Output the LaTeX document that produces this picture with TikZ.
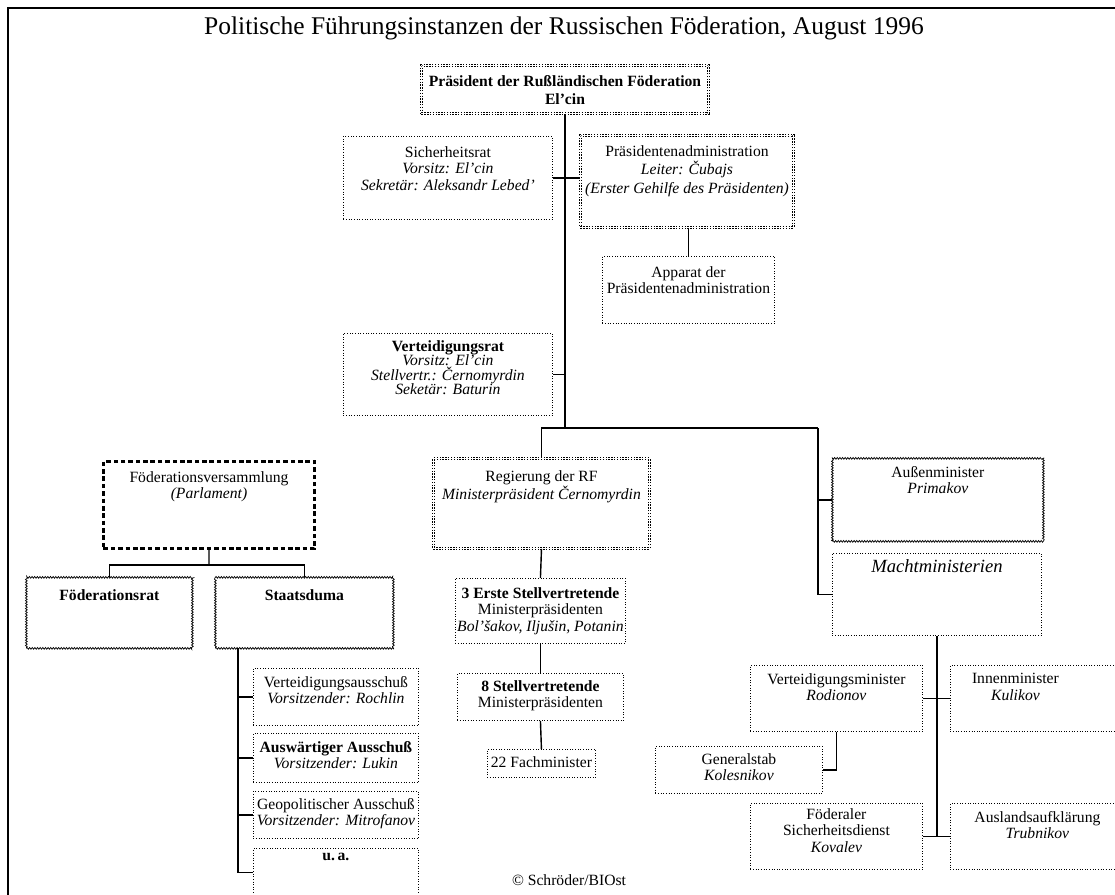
\documentclass[tikz,border=0pt]{standalone}
\usepackage{fontspec}
\setmainfont{Liberation Serif}
\usetikzlibrary{decorations.pathmorphing}

\tikzset{
	dotbox/.style={draw, densely dotted, line width=0.5pt},
	dashbox/.style={draw, line width=1.7pt, dash pattern=on 2.6pt off 1.6pt},
	wavebox/.style={draw, line width=0.4pt, decorate, decoration={zigzag, segment length=1.5pt, amplitude=0.5pt}},
	chainbox/.style={draw, line width=0.55pt, double, double distance=0.8pt, dash pattern=on 0.8pt off 0.8pt},
	sz/.style 2 args={anchor=north west, inner sep=0pt, minimum width=#1*0.02cm, minimum height=#2*0.02cm},
	txt/.style={anchor=north, align=center, inner sep=0pt, yshift=-#1*0.02cm, font=\fontsize{8.9}{9.4}\selectfont},
	link/.style={line width=0.8pt},
}

\begin{document}
\begin{tikzpicture}[x=0.02cm, y=-0.02cm]
			%%%%% START %%%%%
			\useasboundingbox (0,0) rectangle (1115,895);
			\clip (0,0) rectangle (1115,895);
			
			\draw[line width=0.9pt] (1115,8) -- (8,8) -- (8,895);
			\node[font=\fontsize{14.5}{16}\selectfont] (title) at (564,28) {Politische Führungsinstanzen der Russischen Föderation, August 1996};
			
			% Praesident und Umfeld
			\node[chainbox, sz={287}{48}, label={[txt=10, font=\fontsize{8.9}{10.3}\selectfont\bfseries]north:{Präsident der Rußländischen Föderation\\El'cin}}] (pres) at (421,65) {};
			\node[dotbox, sz={209}{83}, label={[txt=10]north:{Sicherheitsrat\\\textit{Vorsitz: El'cin}\\\textit{Sekretär: Aleksandr Lebed'}}}] (sich) at (343,136) {};
			\node[chainbox, sz={213}{92}, label={[txt=10, font=\fontsize{8.9}{10.6}\selectfont]north:{Präsidentenadministration\\\textit{Leiter: Čubajs}\\\textit{(Erster Gehilfe des Präsidenten)}}}] (padm) at (580,135) {};
			\node[dotbox, sz={172}{67}, label={[txt=10]north:{Apparat der\\Präsidentenadministration}}] (app) at (602,256) {};
			\node[dotbox, sz={209}{82}, label={[txt=7, font=\fontsize{8.9}{8.2}\selectfont]north:{\textbf{Verteidigungsrat}\\\textit{Vorsitz: El'cin}\\\textit{Stellvertr.: Černomyrdin}\\\textit{Seketär: Baturin}}}] (vrat) at (343,333) {};
			
			\coordinate (j1) at (565,428);
			\coordinate (j2) at (818,428);
			\draw[link] (pres.south -| j1) -- (j1);
			\draw[link] (sich.east) -- (sich.east -| padm.west);
			\draw[link] (padm.south -| app.north) -- (app.north);
			\draw[link] (vrat.east) -- (vrat.east -| j1);
			
			% Regierung
			\node[chainbox, sz={216}{90}, label={[txt=12]north:{Regierung der RF\\\textit{Ministerpräsident Černomyrdin}}}] (reg) at (433,458) {};
			\node[dotbox, sz={170}{65}, label={[txt=9]north:{\textbf{3 Erste Stellvertretende}\\Ministerpräsidenten\\\textit{Bol'šakov, Iljušin, Potanin}}}] (erste) at (455,578) {};
			\node[dotbox, sz={166}{47}, label={[txt=7]north:{\textbf{8 Stellvertretende}\\Ministerpräsidenten}}] (acht) at (457,673) {};
			\node[dotbox, sz={108}{28}, label={[txt=7]north:{22 Fachminister}}] (fach) at (487,749) {};
			
			\draw[link] (reg.north) |- (j2);
			\draw[link] (reg.south) -- (erste.north);
			\draw[link] (erste.south) -- (acht.north);
			\draw[link] (acht.south) -- (fach.north);
			
			% Parlament
			\node[dashbox, sz={211}{87}, label={[txt=11]north:{Föderationsversammlung\\\textit{(Parlament)}}}] (fv) at (102,460) {};
			\node[wavebox, sz={166}{71}, label={[txt=12, font=\fontsize{8.9}{9.4}\selectfont\bfseries]north:{Föderationsrat}}] (frat) at (26,577) {};
			\node[wavebox, sz={178}{71}, label={[txt=12, font=\fontsize{8.9}{9.4}\selectfont\bfseries]north:{Staatsduma}}] (sduma) at (215,577) {};
			
			\coordinate (j3) at (209,565);
			\coordinate (j4) at (238,648);
			\draw[link] (fv.south) -- (j3);
			\draw[link] (frat.north) |- (j3) -| (sduma.north);
			
			\node[dotbox, sz={165}{57}, label={[txt=8]north:{Verteidigungsausschuß\\\textit{Vorsitzender: Rochlin}}}] (vaus) at (253,668) {};
			\node[dotbox, sz={165}{49}, label={[txt=8]north:{\textbf{Auswärtiger Ausschuß}\\\textit{Vorsitzender: Lukin}}}] (aaus) at (253,733) {};
			\node[dotbox, sz={165}{47}, label={[txt=7]north:{Geopolitischer Ausschuß\\\textit{Vorsitzender: Mitrofanov}}}] (geo) at (253,791) {};
			\node[dotbox, sz={165}{48}, label={[txt=5, font=\fontsize{8.9}{9.4}\selectfont\bfseries]north:{u.\,a.}}] (ua) at (253,848) {};
			
			\draw[link] (j4) |- (ua.west);
			\draw[link] (vaus.west -| j4) -- (vaus.west);
			\draw[link] (aaus.west -| j4) -- (aaus.west);
			\draw[link] (geo.west -| j4) -- (geo.west);
			
			% Minister
			\node[wavebox, sz={211}{83}, label={[txt=8]north:{Außenminister\\\textit{Primakov}}}] (aussen) at (832,458) {};
			\node[dotbox, sz={209}{82}, label={[txt=6, font=\fontsize{10.6}{12}\selectfont\itshape]north:{Machtministerien}}] (macht) at (832,553) {};
			
			\draw[link] (j2) |- (macht.west);
			\draw[link] (aussen.west -| j2) -- (aussen.west);
			
			\node[dotbox, sz={172}{66}, label={[txt=8]north:{Verteidigungsminister\\\textit{Rodionov}}}] (vmin) at (750,665) {};
			\node[dotbox, sz={200}{66}, label={[txt=8, xshift=-35*0.02cm]north:{Innenminister\\\textit{Kulikov}}}] (inn) at (950,665) {};
			\node[dotbox, sz={167}{47}, label={[txt=7]north:{Generalstab\\\textit{Kolesnikov}}}] (gstab) at (655,746) {};
			\node[dotbox, sz={172}{66}, label={[txt=5]north:{Föderaler\\Sicherheitsdienst\\\textit{Kovalev}}}] (fsd) at (750,803) {};
			\node[dotbox, sz={200}{66}, label={[txt=8, xshift=-13*0.02cm]north:{Auslandsaufklärung\\\textit{Trubnikov}}}] (ausl) at (950,803) {};
			
			\draw[link] (macht.south) -- (macht.south |- fsd.east);
			\draw[link] (vmin.east) -- (inn.west);
			\draw[link] (fsd.east) -- (ausl.west);
			\draw[link] (vmin.south) |- (gstab.east);
			
			\node[font=\fontsize{8.9}{9.4}\selectfont] (copy) at (569,880) {© Schröder/BIOst};
			
			%%%%% END %%%%%
\end{tikzpicture}
\end{document}
